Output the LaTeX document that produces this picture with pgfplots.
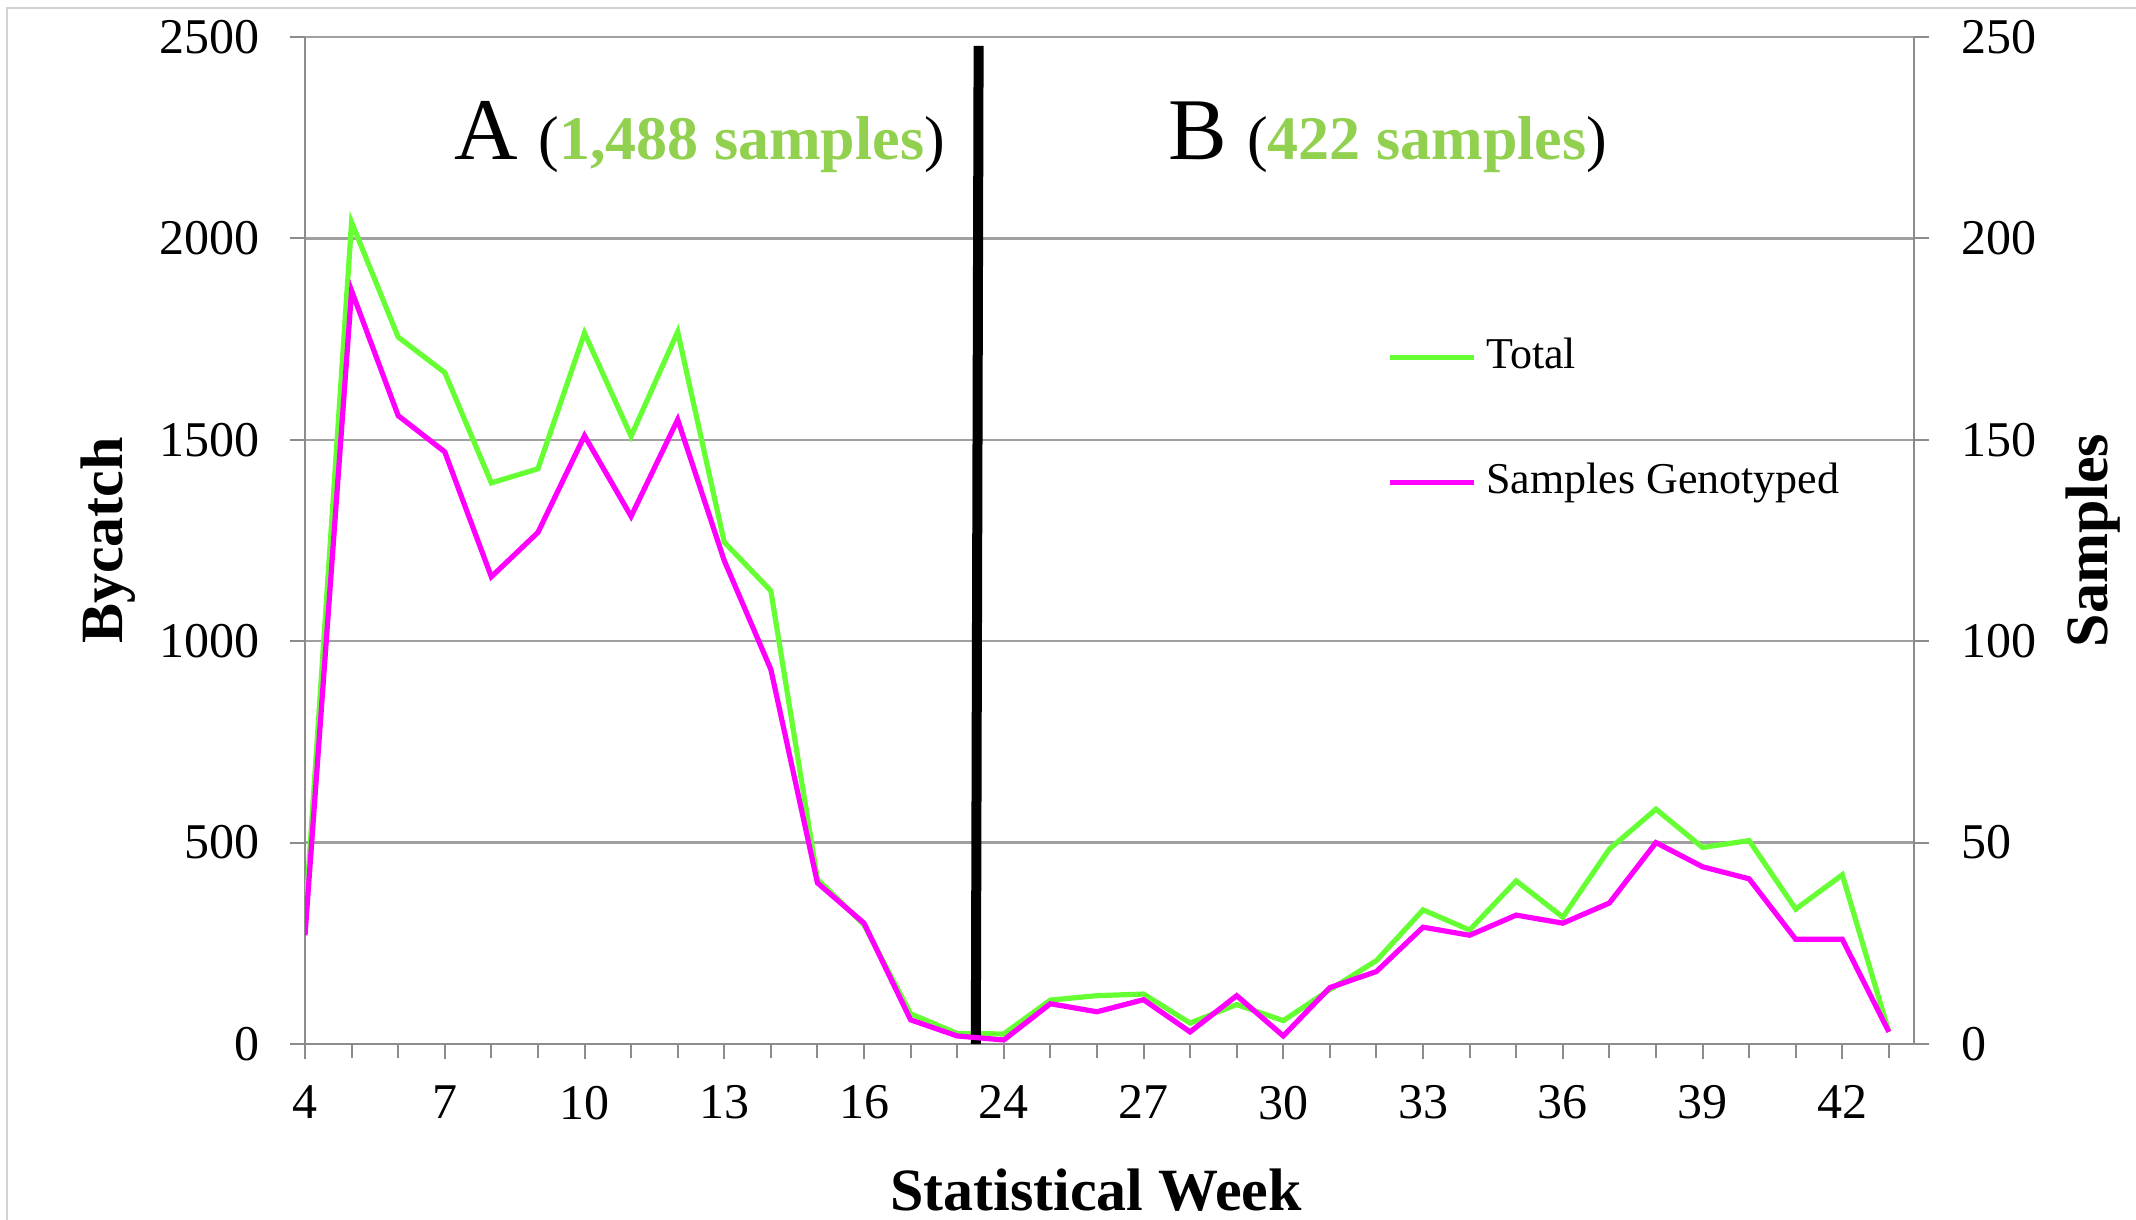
\documentclass[border=0pt]{standalone}
\usepackage{fontspec}
\setmainfont{Liberation Serif}
\usepackage{pgfplots}
\pgfplotsset{compat=1.18}
\usepackage{pgfplotstable}
\definecolor{totalgreen}{RGB}{102,255,51}
\definecolor{sampmag}{RGB}{255,0,255}
\definecolor{titlegreen}{RGB}{146,208,80}
\definecolor{gridgray}{RGB}{160,160,160}
\definecolor{axisgray}{RGB}{140,140,140}
\newcommand\tickfont{\fontsize{12.5}{14}\selectfont}
\newcommand\labfont{\fontsize{15}{17}\selectfont\bfseries}

% pos: category index (0 = week 4 ... 14 = week 18, 15 = week 24 ... 34 = week 43)
\pgfplotstableread{
pos total samples
0  300   27
1  2040  187
2  1755  156
3  1667  147
4  1393  116
5  1428  127
6  1765  151
7  1509  131
8  1768  155
9  1246  120
10 1125  93
11 409   40
12 296   30
13 75    6
14 26    2
15 25    1
16 109   10
17 120   8
18 124   11
19 52    3
20 98    12
21 58    2
22 135   14
23 207   18
24 333   29
25 283   27
26 405   32
27 315   30
28 484   35
29 583   50
30 488   44
31 505   41
32 335   26
33 420   26
34 30    3
}\data

\pgfplotsset{
  common/.style={
    at={(0,0)}, anchor=south west,
    scale only axis, width=402.25pt, height=251.75pt,
    xmin=0, xmax=34.54,
    tick align=outside,
    major tick length=3.75pt, minor tick length=3.5pt,
    tick style={axisgray, line width=0.5pt},
    axis line style={axisgray, line width=0.7pt, -},
    ticklabel style={font=\tickfont},
    /pgf/number format/assume math mode=true,
    /pgf/number format/1000 sep={},
  }
}

\begin{document}
\begin{tikzpicture}
\path[use as bounding box] (-76.25pt,-43.75pt) rectangle (457.75pt,261pt);
\draw[gray!35, line width=0.5pt] (-74.5pt,-60pt) -- (-74.5pt,259pt) -- (470pt,259pt);

\begin{axis}[common,
  ymin=0, ymax=2500,
  axis x line*=bottom, axis y line*=left,
  xtick={0,3,...,33},
  xticklabels={4,7,10,13,16,24,27,30,33,36,39,42},
  minor xtick={0,...,34},
  ytick={0,500,...,2500},
  ymajorgrids, grid style={gridgray, line width=0.6pt},
  yticklabel style={inner xsep=0pt, xshift=-7.5pt},
  xticklabel style={inner sep=0pt, anchor=north, yshift=-6.5pt},
  xlabel={Statistical Week},
  xlabel style={font=\labfont, at={(axis description cs:0.4916,0)}, anchor=base, yshift=-41.5pt},
  ylabel={Bycatch},
  ylabel style={font=\labfont, at={(axis description cs:0,0.5)}, anchor=base, yshift=45.5pt},
]
\addplot[totalgreen, line width=1.3pt, forget plot] table[x=pos, y=total] {\data};
\addplot[black, line width=2.5pt, forget plot] coordinates {(14.40,0) (14.46,2478)};
\node[anchor=base west, inner sep=0pt] at (rel axis cs:0.0926,0.8788)
  {\fontsize{22}{24}\selectfont A\hspace{5pt}\fontsize{15.5}{18}\selectfont(\textcolor{titlegreen}{\bfseries 1,488 samples})};
\node[anchor=base west, inner sep=0pt] at (rel axis cs:0.5361,0.8788)
  {\fontsize{22}{24}\selectfont B\hspace{5pt}\fontsize{15.5}{18}\selectfont(\textcolor{titlegreen}{\bfseries 422 samples})};
\end{axis}

\begin{axis}[common,
  ymin=0, ymax=250,
  axis x line=none, axis y line*=right,
  ytick={0,50,...,250},
  yticklabel style={anchor=west, inner xsep=0pt, xshift=8pt},
  ylabel={Samples},
  ylabel style={font=\labfont, at={(axis description cs:1,0.5)}, anchor=base, yshift=-48.25pt},
  legend style={draw=none, fill=none, at={(0.672,0.62)}, anchor=west, inner sep=0pt,
    font=\fontsize{11}{13}\selectfont, row sep=20.75pt,
    nodes={inner sep=0pt, text height=8pt, text depth=2.5pt}},
  legend cell align=left,
  legend image code/.code={\draw[#1] (0pt,0pt) -- (21pt,0pt);},
]
\addlegendimage{totalgreen, line width=1.3pt}
\addlegendentry{\hspace{2.5pt}Total}
\addplot[sampmag, line width=1.3pt] table[x=pos, y=samples] {\data};
\addlegendentry{\hspace{2.5pt}Samples Genotyped}
\end{axis}
\end{tikzpicture}
\end{document}
